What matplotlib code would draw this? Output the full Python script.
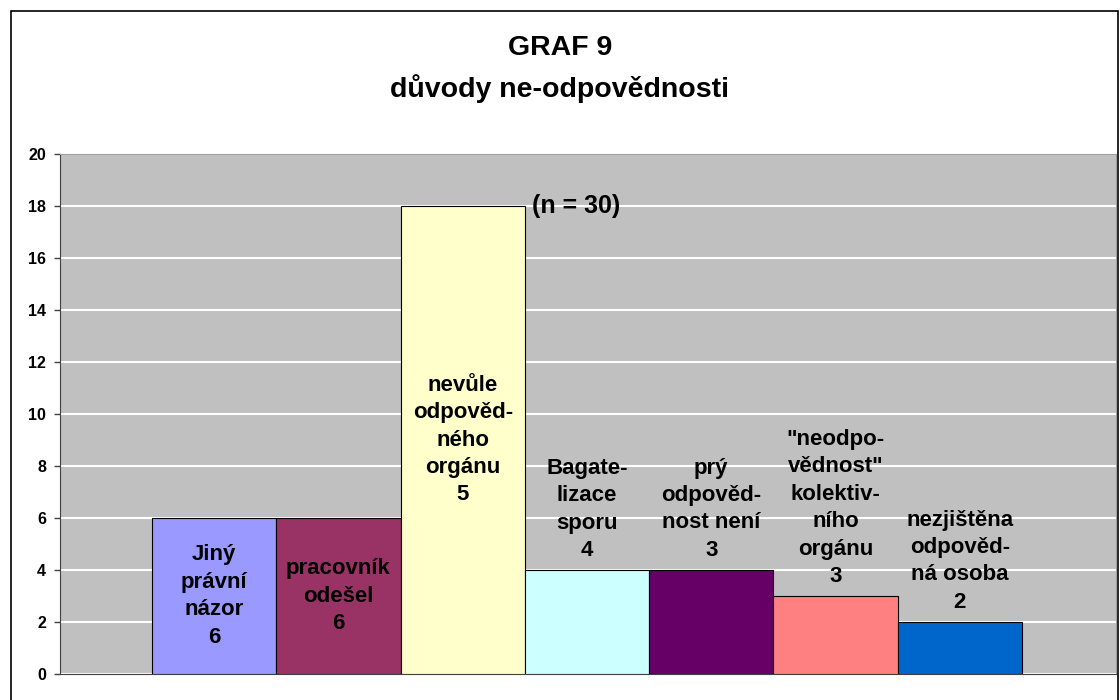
import matplotlib.pyplot as plt
from matplotlib.patches import Rectangle

# data
labels = ["Jiný\nprávní\nnázor\n6", "pracovník\nodešel\n6", "nevůle\nodpověd-\nného\norgánu\n5",
          "Bagate-\nlizace\nsporu\n4", "prý\nodpověd-\nnost není\n3",
          "\"neodpo-\nvědnost\"\nkolektiv-\nního\norgánu\n3", "nezjištěna\nodpověd-\nná osoba\n2"]
values = [6, 6, 18, 4, 4, 3, 2]
inside = [True, True, True, False, False, False, False]
colors = ["#9999FF", "#993366", "#FFFFCC", "#CCFFFF", "#660066", "#FF8080", "#0066CC"]
yticks = [0, 2, 4, 6, 8, 10, 12, 14, 16, 18, 20]

plt.rcParams['font.family'] = ['Liberation Sans', 'DejaVu Sans']
plt.rcParams['font.weight'] = 'bold'

fig = plt.figure(figsize=(11.2, 7), dpi=100)
ax = fig.add_axes([60 / 1120, 26 / 700, 1056 / 1120, 520 / 700])
ax.set_facecolor('#C0C0C0')

x = list(range(len(values)))
ax.bar(x, values, width=1.0, color=colors, edgecolor='black', linewidth=0.8, zorder=3)

for xi, v, lab, ins in zip(x, values, labels, inside):
    if ins:
        ax.text(xi, v / 2, lab, ha='center', va='center', fontsize=16,
                fontweight='bold', linespacing=1.4, zorder=4)
    else:
        ax.text(xi, v + 0.35, lab, ha='center', va='bottom', fontsize=16,
                fontweight='bold', linespacing=1.4, zorder=4)

ax.text(2.56, 18, "(n = 30)", ha='left', va='center', fontsize=18, fontweight='bold', zorder=4)

ax.set_ylim(0, 20)
ax.set_xlim(-1.24, 7.256)
ax.set_yticks(yticks)
ax.set_xticks([])
ax.yaxis.grid(True, color='white', linewidth=1.5, zorder=0)
ax.set_axisbelow(True)
ax.tick_params(axis='y', direction='out', length=4, width=1, colors='#404040',
               labelcolor='black', labelsize=11.5, pad=6)
for lab in ax.get_yticklabels():
    lab.set_fontweight('bold')
ax.spines['left'].set_color('#404040')
ax.spines['bottom'].set_color('#404040')
ax.spines['top'].set_color('#A0A0A0')
ax.spines['right'].set_color('#A0A0A0')

fig.text(0.5, 1 - 48 / 700, "GRAF 9", ha='center', va='center', fontsize=20.5, fontweight='bold')
fig.text(0.5, 1 - 89 / 700, "důvody ne-odpovědnosti", ha='center', va='center',
         fontsize=20.5, fontweight='bold')

fig.patches.append(Rectangle((11 / 1120, -0.05), 1107 / 1120, 1 - 11 / 700 + 0.05,
                             transform=fig.transFigure, fill=False, edgecolor='black',
                             linewidth=1.2))

fig.savefig("out.png", dpi=100)
